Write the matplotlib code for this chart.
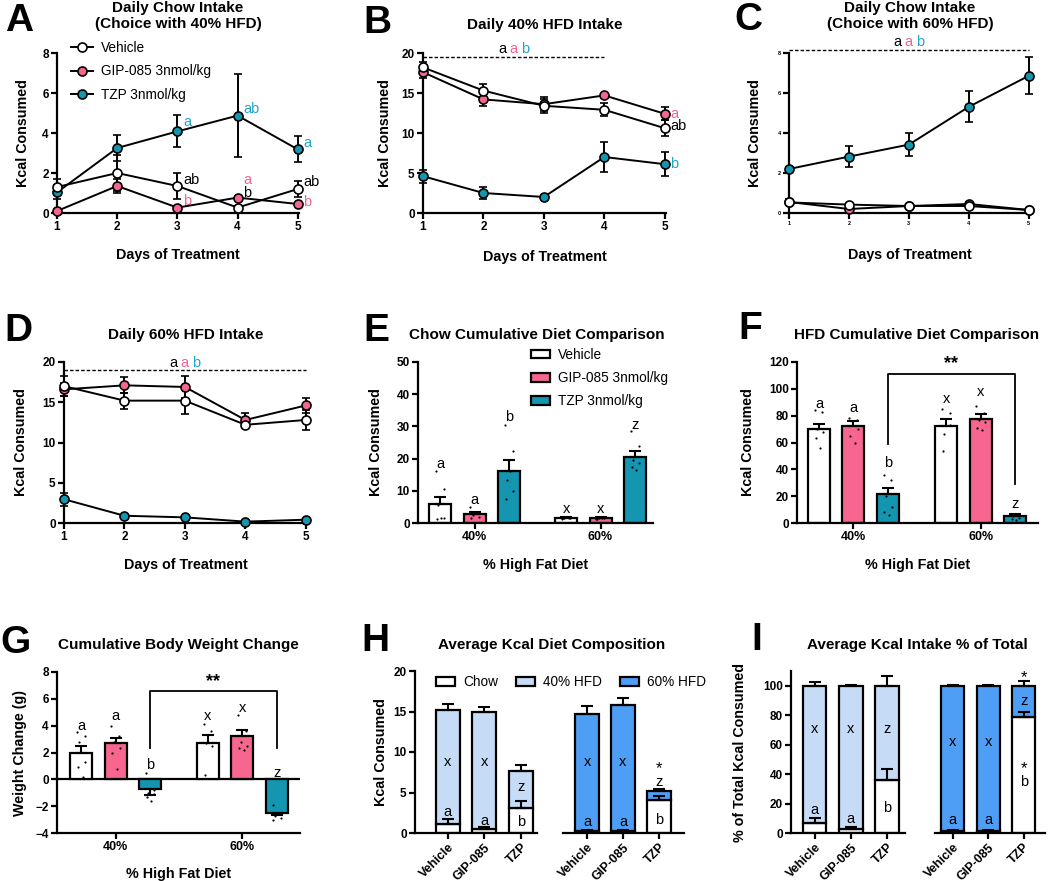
import numpy as np
import matplotlib.pyplot as plt
from matplotlib.patches import Patch
from matplotlib.lines import Line2D

plt.rcParams['font.family'] = ['Liberation Sans', 'DejaVu Sans']
plt.rcParams['font.weight'] = 'bold'
plt.rcParams['axes.labelweight'] = 'bold'

# ---------------- data ----------------
days = [1, 2, 3, 4, 5]
groups = ['Vehicle', 'GIP-085 3nmol/kg', 'TZP 3nmol/kg']
short_groups = ['Vehicle', 'GIP-085', 'TZP']
hfd_ticks = ['40%', '60%']

# A: daily chow intake (choice with 40% HFD)
a_veh = [1.30, 2.00, 1.35, 0.27, 1.20]
a_veh_err = [0.42, 0.90, 0.67, 0.08, 0.38]
a_gip = [0.10, 1.35, 0.27, 0.77, 0.45]
a_gip_err = [0.05, 0.35, 0.08, 0.08, 0.08]
a_tzp = [1.03, 3.25, 4.08, 4.87, 3.18]
a_tzp_err = [0.35, 0.67, 0.80, 2.07, 0.65]

# B: daily 40% HFD intake
b_veh = [18.2, 15.3, 13.4, 12.9, 10.6]
b_veh_err = [0.7, 0.8, 0.9, 0.8, 1.0]
b_gip = [17.6, 14.2, 13.6, 14.7, 12.4]
b_gip_err = [0.7, 0.8, 0.9, 0.2, 0.8]
b_tzp = [4.6, 2.5, 2.0, 7.0, 6.1]
b_tzp_err = [0.8, 0.8, 0.2, 1.9, 1.5]

# C: daily chow intake (choice with 60% HFD)
c_veh = [0.53, 0.42, 0.35, 0.35, 0.15]
c_veh_err = [0.08, 0.04, 0.04, 0.08, 0.04]
c_gip = [0.55, 0.20, 0.35, 0.45, 0.15]
c_gip_err = [0.15, 0.04, 0.04, 0.12, 0.04]
c_tzp = [2.20, 2.82, 3.42, 5.31, 6.86]
c_tzp_err = [0.10, 0.53, 0.56, 0.78, 0.93]

# D: daily 60% HFD intake
d_veh = [17.0, 15.2, 15.2, 12.2, 12.8]
d_veh_err = [1.2, 1.0, 1.6, 0.4, 1.2]
d_gip = [16.6, 17.1, 16.9, 12.8, 14.6]
d_gip_err = [0.8, 1.0, 1.4, 0.9, 0.9]
d_tzp = [2.95, 0.90, 0.70, 0.17, 0.41]
d_tzp_err = [0.8, 0.1, 0.1, 0.05, 0.05]

# E: chow cumulative (40% veh, gip, tzp, 60% veh, gip, tzp)
e_mean = [6.0, 2.7, 16.1, 1.55, 1.5, 20.5]
e_err = [2.07, 0.7, 3.6, 0.3, 0.4, 1.9]
e_dots = [[16, 10.5, 5.5, 1.5, 1.3, 1.6], [5.0, 3.5, 2.5, 2.0, 1.5, 3.0],
          [30.5, 22.5, 13.5, 10.0, 7.5, 16.0], [1.3, 1.5, 1.7, 1.6, 1.4, 1.8],
          [1.2, 1.5, 1.7, 2.0, 1.1, 1.4], [28.5, 24.0, 19.5, 18.5, 17.5, 16.5]]
e_letters = ['a', 'a', 'b', 'x', 'x', 'z']
e_letter_y = [18.2, 7.0, 32.9, 4.5, 4.5, 30.3]

# F: HFD cumulative
f_mean = [70.3, 72.3, 21.9, 72.0, 77.5, 5.0]
f_err = [3.7, 3.5, 4.2, 5.2, 4.0, 1.5]
f_dots = [[84, 83, 70, 68, 63, 56], [78, 77, 76, 70, 65, 60], [36, 32, 20, 12, 8, 6],
          [85, 82, 66, 73, 54], [87, 82, 77, 75, 71, 69], [7, 6, 5, 4, 3, 2]]
f_letters = ['a', 'a', 'b', 'x', 'x', 'z']
f_letter_y = [89, 86, 44.7, 92.7, 97.6, 14.4]

# G: cumulative body weight change
g_mean = [1.96, 2.7, -0.75, 2.7, 3.23, -2.48]
g_err = [0.5, 0.4, 0.45, 0.6, 0.45, 0.2]
g_dots = [[3.5, 3.2, 2.8, 1.3, 0.9, 0.2], [4.0, 3.2, 2.8, 2.3, 2.0, 0.8],
          [0.5, -0.8, -1.0, -1.1, -1.3, -1.6], [4.1, 3.6, 2.7, 2.5, 0.3],
          [4.8, 3.6, 2.8, 2.5, 2.3, 2.2], [-1.9, -2.6, -2.7, -2.9, -3.0]]
g_letters = ['a', 'a', 'b', 'x', 'x', 'z']
g_letter_y = [4.0, 4.7, 1.04, 4.7, 5.34, 0.47]

# H: average kcal diet composition
h40_chow = [1.07, 0.50, 3.09]
h40_chow_err = [0.6, 0.2, 0.85]
h40_hfd = [14.07, 14.44, 4.52]
h40_tot_err = [0.8, 0.6, 0.8]
h60_chow = [0.25, 0.25, 4.03]
h60_chow_err = [0.1, 0.1, 0.5]
h60_hfd = [14.48, 15.59, 1.16]
h60_tot_err = [1.0, 0.85, 0.25]

# I: average kcal intake % of total
i40_chow = [6.8, 2.95, 35.9]
i40_chow_err = [3.2, 0.8, 7.3]
i40_hfd = [93.2, 97.05, 64.1]
i40_tot_err = [2.5, 0.8, 6.8]
i60_chow = [1.5, 1.5, 78.6]
i60_chow_err = [0.4, 0.4, 3.9]
i60_hfd = [98.5, 98.5, 21.4]
i60_tot_err = [0.5, 0.5, 3.5]

# ---------------- style ----------------
PINK = '#f7668f'
TEAL = '#1596b0'
LBLUE = '#c6dcf6'
BLUE = '#4f9ef5'
PINK_T = '#f06592'
TEAL_T = '#1fa5c8'
LW = 1.6

W, H = 1050, 881
fig = plt.figure(figsize=(10.5, 8.81), dpi=100)


def px_axes(x0, y0, x1, y1):
    return fig.add_axes([x0 / W, 1 - y1 / H, (x1 - x0) / W, (y1 - y0) / H])


def style(ax, tick_size=8.5):
    for s in ['top', 'right']:
        ax.spines[s].set_visible(False)
    for s in ['left', 'bottom']:
        ax.spines[s].set_linewidth(LW)
    ax.tick_params(width=LW, length=4, labelsize=tick_size, pad=2)


def label_at(ax, xlabel_px, ylabel_px, box):
    x0, y0, x1, y1 = box
    if ylabel_px is not None:
        ax.yaxis.set_label_coords((ylabel_px - x0) / (x1 - x0), 0.5)
    if xlabel_px is not None:
        ax.xaxis.set_label_coords(0.5, (y1 - xlabel_px) / (y1 - y0))


def fig_text(x, y, s, **kw):
    fig.text(x / W, 1 - y / H, s, ha='center', va='center', **kw)


def line_panel(ax, veh, veh_e, gip, gip_e, tzp, tzp_e):
    for vals, err, col in [(tzp, tzp_e, TEAL), (gip, gip_e, PINK), (veh, veh_e, 'white')]:
        ax.errorbar(days, vals, yerr=err, color='k', lw=1.4, marker='o', ms=6.5,
                    mfc=col, mec='k', mew=1.2, capsize=3, capthick=1.4,
                    elinewidth=1.4, clip_on=False, zorder=3)
    ax.set_xticks(days)
    ax.set_xlim(1, 5.02)
    ax.set_xlabel('Days of Treatment', fontsize=10.3)
    ax.set_ylabel('Kcal Consumed', fontsize=10.3)


def letters_row(ax, x, y, size=10.5):
    for dx, s, c in [(-8, 'a', 'black'), (0, 'a', PINK_T), (8, 'b', TEAL_T)]:
        ax.annotate(s, (x, y), xytext=(dx, 0), textcoords='offset points',
                    ha='center', va='center', color=c, fontsize=size,
                    fontweight='normal', annotation_clip=False)


def bar_panel(ax, pos, means, errs, dots, letters, letter_y):
    cols = ['white', PINK, TEAL, 'white', PINK, TEAL]
    ax.bar(pos, means, width=0.64, color=cols, edgecolor='k', linewidth=LW, zorder=2)
    lo = [e if m < 0 else 0 for m, e in zip(means, errs)]
    hi = [0 if m < 0 else e for m, e in zip(means, errs)]
    ax.errorbar(pos, means, yerr=[lo, hi], fmt='none', ecolor='k', elinewidth=1.5,
                capsize=4, capthick=1.5, zorder=3)
    offs = [-0.12, 0.1, -0.05, 0.12, -0.1, 0.04]
    for p, d in zip(pos, dots):
        ax.scatter([p + offs[k] for k in range(len(d))], d, s=2.5, color='k', zorder=4,
                   linewidths=0)
    for p, s, y in zip(pos, letters, letter_y):
        ax.text(p, y, s, ha='center', va='center', fontsize=10.5, fontweight='normal')


def stack_panel(ax, chow, chow_err, hfd, tot_err, hcol, lab_chow, lab_hfd, extra=()):
    x = np.arange(3)
    ax.bar(x, chow, width=0.66, color='white', edgecolor='k', linewidth=LW, zorder=2)
    ax.bar(x, hfd, bottom=chow, width=0.66, color=hcol, edgecolor='k', linewidth=LW, zorder=2)
    tops = [c + h for c, h in zip(chow, hfd)]
    ax.errorbar(x, chow, yerr=[[0] * 3, chow_err], fmt='none', ecolor='k', elinewidth=1.5,
                capsize=4, capthick=1.5, zorder=3)
    ax.errorbar(x, tops, yerr=[[0] * 3, tot_err], fmt='none', ecolor='k', elinewidth=1.5,
                capsize=4, capthick=1.5, zorder=3)
    for xi, (s, y) in zip(x, lab_chow):
        ax.text(xi, y, s, ha='center', va='center', fontsize=10.5, fontweight='normal', zorder=5)
    for xi, (s, y) in zip(x, lab_hfd):
        ax.text(xi, y, s, ha='center', va='center', fontsize=10.5, fontweight='normal', zorder=5)
    for xi, s, y in extra:
        ax.text(xi, y, s, ha='center', va='center', fontsize=12, fontweight='normal', zorder=5)
    ax.set_xticks(x)
    ax.set_xticklabels(short_groups, rotation=45, ha='right', rotation_mode='anchor',
                       fontsize=9)


# ---------------- A ----------------
box = (57, 53, 299, 213)
ax = px_axes(*box)
style(ax)
line_panel(ax, a_veh, a_veh_err, a_gip, a_gip_err, a_tzp, a_tzp_err)
ax.set_ylim(0, 8)
ax.set_yticks([0, 2, 4, 6, 8])
label_at(ax, 248, 30, box)
for x, y, s, c in [(3, 4.55, 'a', TEAL_T), (4, 5.2, 'ab', TEAL_T), (5, 3.5, 'a', TEAL_T),
                   (3, 1.65, 'ab', 'black'), (4, 1.0, 'b', 'black'), (5, 1.55, 'ab', 'black'),
                   (3, 0.6, 'b', PINK_T), (4, 1.65, 'a', PINK_T), (5, 0.55, 'b', PINK_T)]:
    ax.annotate(s, (x, y), xytext=(4, 0), textcoords='offset points', ha='left',
                va='center', color=c, fontsize=10.5, fontweight='normal')
handles = [Line2D([], [], color='k', lw=1.4, marker='o', ms=6.5, mfc=c, mec='k', mew=1.2)
           for c in ['white', PINK, TEAL]]
ax.legend(handles, groups, loc='upper left', bbox_to_anchor=(0.03, 1.12), frameon=False,
          handlelength=1.6, labelspacing=0.72, handletextpad=0.6,
          borderpad=0, prop={'weight': 'normal', 'size': 9.8})
fig_text(19, 21, 'A', fontsize=28)
fig_text(178, 16, 'Daily Chow Intake\n(Choice with 40% HFD)', fontsize=11, linespacing=1.1)

# ---------------- B ----------------
box = (423, 53, 666, 213)
ax = px_axes(*box)
style(ax)
line_panel(ax, b_veh, b_veh_err, b_gip, b_gip_err, b_tzp, b_tzp_err)
ax.set_ylim(0, 20)
ax.set_yticks([0, 5, 10, 15, 20])
label_at(ax, 250, 392, box)
ax.plot([1, 4], [19.5, 19.5], color='k', lw=1, ls=(0, (2.5, 1.5)), clip_on=False)
letters_row(ax, 2.5, 20.5)
for y, s, c in [(12.4, 'a', PINK_T), (10.9, 'ab', 'black'), (6.1, 'b', TEAL_T)]:
    ax.annotate(s, (5, y), xytext=(4, 0), textcoords='offset points', ha='left',
                va='center', color=c, fontsize=10.5, fontweight='normal')
fig_text(377, 23, 'B', fontsize=28)
fig_text(545, 25, 'Daily 40% HFD Intake', fontsize=11)

# ---------------- C ----------------
box = (789, 53, 1030, 213)
ax = px_axes(*box)
style(ax, tick_size=4)
line_panel(ax, c_veh, c_veh_err, c_gip, c_gip_err, c_tzp, c_tzp_err)
ax.set_ylim(0, 8)
ax.set_yticks([0, 2, 4, 6, 8])
label_at(ax, 248, 762, box)
ax.plot([1, 5], [8.15, 8.15], color='k', lw=1, ls=(0, (2.5, 1.5)), clip_on=False)
letters_row(ax, 3.0, 8.55)
fig_text(748, 20, 'C', fontsize=28)
fig_text(910, 16, 'Daily Chow Intake\n(Choice with 60% HFD)', fontsize=11, linespacing=1.1)

# ---------------- D ----------------
box = (64, 362, 307, 523)
ax = px_axes(*box)
style(ax)
line_panel(ax, d_veh, d_veh_err, d_gip, d_gip_err, d_tzp, d_tzp_err)
ax.set_ylim(0, 20)
ax.set_yticks([0, 5, 10, 15, 20])
label_at(ax, 558, 28, box)
ax.plot([1, 5], [19.0, 19.0], color='k', lw=1, ls=(0, (2.5, 1.5)), clip_on=False)
letters_row(ax, 3.0, 19.9)
fig_text(18, 331, 'D', fontsize=28)
fig_text(186, 335, 'Daily 60% HFD Intake', fontsize=11)

# ---------------- E ----------------
pos = [0, 1, 2, 3.65, 4.65, 5.65]
box = (418, 362, 653, 523)
ax = px_axes(*box)
style(ax)
bar_panel(ax, pos, e_mean, e_err, e_dots, e_letters, e_letter_y)
ax.set_xlim(-0.64, 6.17)
ax.set_ylim(0, 50)
ax.set_yticks([0, 10, 20, 30, 40, 50])
ax.set_xticks([1, 4.65])
ax.set_xticklabels(hfd_ticks, fontsize=9)
ax.set_xlabel('% High Fat Diet', fontsize=10.3)
ax.set_ylabel('Kcal Consumed', fontsize=10.3)
label_at(ax, 558, 383, box)
patches = [Patch(facecolor=c, edgecolor='k', linewidth=LW) for c in ['white', PINK, TEAL]]
ax.legend(patches, groups, loc='upper left', bbox_to_anchor=(0.45, 1.13), frameon=False,
          handlelength=1.4, handleheight=0.6, labelspacing=0.68, handletextpad=0.6,
          borderpad=0, prop={'weight': 'normal', 'size': 9.8})
fig_text(376, 331, 'E', fontsize=28)
fig_text(537, 335, 'Chow Cumulative Diet Comparison', fontsize=11)

# ---------------- F ----------------
pos = [0, 1, 2, 3.7, 4.7, 5.7]
box = (797, 362, 1038, 523)
ax = px_axes(*box)
style(ax)
bar_panel(ax, pos, f_mean, f_err, f_dots, f_letters, f_letter_y)
ax.set_xlim(-0.64, 6.37)
ax.set_ylim(0, 120)
ax.set_yticks([0, 20, 40, 60, 80, 100, 120])
ax.set_xticks([1, 4.7])
ax.set_xticklabels(hfd_ticks, fontsize=9)
ax.set_xlabel('% High Fat Diet', fontsize=10.3)
ax.set_ylabel('Kcal Consumed', fontsize=10.3)
label_at(ax, 558, 755, box)
ax.plot([2, 2, 5.7, 5.7], [59, 110.8, 110.8, 29], color='k', lw=1.3, clip_on=False)
ax.text(3.85, 119, '**', ha='center', va='center', fontsize=13)
fig_text(750, 329, 'F', fontsize=28)
fig_text(917, 335, 'HFD Cumulative Diet Comparison', fontsize=11)

# ---------------- G ----------------
pos = [0, 1, 2, 3.68, 4.68, 5.68]
box = (57, 672, 300, 833)
ax = px_axes(*box)
style(ax)
bar_panel(ax, pos, g_mean, g_err, g_dots, g_letters, g_letter_y)
ax.axhline(0, color='k', lw=LW, zorder=1)
ax.set_xlim(-0.7, 6.35)
ax.set_ylim(-4, 8)
ax.set_yticks([-4, -2, 0, 2, 4, 6, 8])
ax.set_xticks([1, 4.68])
ax.set_xticklabels(hfd_ticks, fontsize=9)
ax.set_xlabel('% High Fat Diet', fontsize=10.3)
ax.set_ylabel('Weight Change (g)', fontsize=10.3)
label_at(ax, 867, 27, box)
ax.plot([2, 2, 5.68, 5.68], [2.3, 6.6, 6.6, 2.3], color='k', lw=1.3, clip_on=False)
ax.text(3.84, 7.25, '**', ha='center', va='center', fontsize=13)
fig_text(15, 643, 'G', fontsize=28)
fig_text(178, 645, 'Cumulative Body Weight Change', fontsize=11)

# ---------------- H ----------------
box = (415, 671, 537, 833)
ax = px_axes(*box)
style(ax)
stack_panel(ax, h40_chow, h40_chow_err, h40_hfd, h40_tot_err, LBLUE,
            [('a', 2.6), ('a', 1.5), ('b', 1.36)], [('x', 8.77), ('x', 8.77), ('z', 5.68)])
ax.set_xlim(-0.9, 2.44)
ax.set_ylim(0, 20)
ax.set_yticks([0, 5, 10, 15, 20])
ax.set_ylabel('Kcal Consumed', fontsize=10.3)
label_at(ax, None, 388, box)
ax2 = px_axes(563, 671, 684, 833)
style(ax2)
stack_panel(ax2, h60_chow, h60_chow_err, h60_hfd, h60_tot_err, BLUE,
            [('a', 1.36), ('a', 1.36), ('b', 1.56)], [('x', 8.77), ('x', 8.77), ('z', 6.25)],
            extra=[(2, '*', 7.9)])
ax2.set_xlim(-0.67, 2.7)
ax2.set_ylim(0, 20)
ax2.spines['left'].set_visible(False)
ax2.set_yticks([])
patches = [Patch(facecolor=c, edgecolor='k', linewidth=LW) for c in ['white', LBLUE, BLUE]]
fig.legend(patches, ['Chow', '40% HFD', '60% HFD'], loc='center left',
           bbox_to_anchor=(436 / W, 1 - 682 / H), ncol=3, frameon=False,
           handlelength=1.4, handleheight=0.6, columnspacing=1.3, handletextpad=0.6,
           borderpad=0, borderaxespad=0, prop={'weight': 'normal', 'size': 9.8})
fig_text(375, 641, 'H', fontsize=28)
fig_text(552, 645, 'Average Kcal Diet Composition', fontsize=11)

# ---------------- I ----------------
box = (791, 671, 905, 833)
ax = px_axes(*box)
style(ax)
stack_panel(ax, i40_chow, i40_chow_err, i40_hfd, i40_tot_err, LBLUE,
            [('a', 15.9), ('a', 9.8), ('b', 17.3)], [('x', 70.5), ('x', 70.5), ('z', 70.5)])
ax.set_xlim(-0.65, 2.5)
ax.set_ylim(0, 110)
ax.set_yticks([0, 20, 40, 60, 80, 100])
ax.set_ylabel('% of Total Kcal Consumed', fontsize=10.3)
label_at(ax, None, 747, box)
ax2 = px_axes(935, 671, 1045, 833)
style(ax2)
stack_panel(ax2, i60_chow, i60_chow_err, i60_hfd, i60_tot_err, BLUE,
            [('a', 8.6), ('a', 8.6), ('b', 34.8)], [('x', 62), ('x', 62), ('z', 89.3)],
            extra=[(2, '*', 44), (2, '*', 105.5)])
ax2.set_xlim(-0.5, 2.6)
ax2.set_ylim(0, 110)
ax2.spines['left'].set_visible(False)
ax2.set_yticks([])
fig_text(757, 640, 'I', fontsize=28)
fig_text(917, 645, 'Average Kcal Intake % of Total', fontsize=11)

fig.savefig('out.png', dpi=100)
